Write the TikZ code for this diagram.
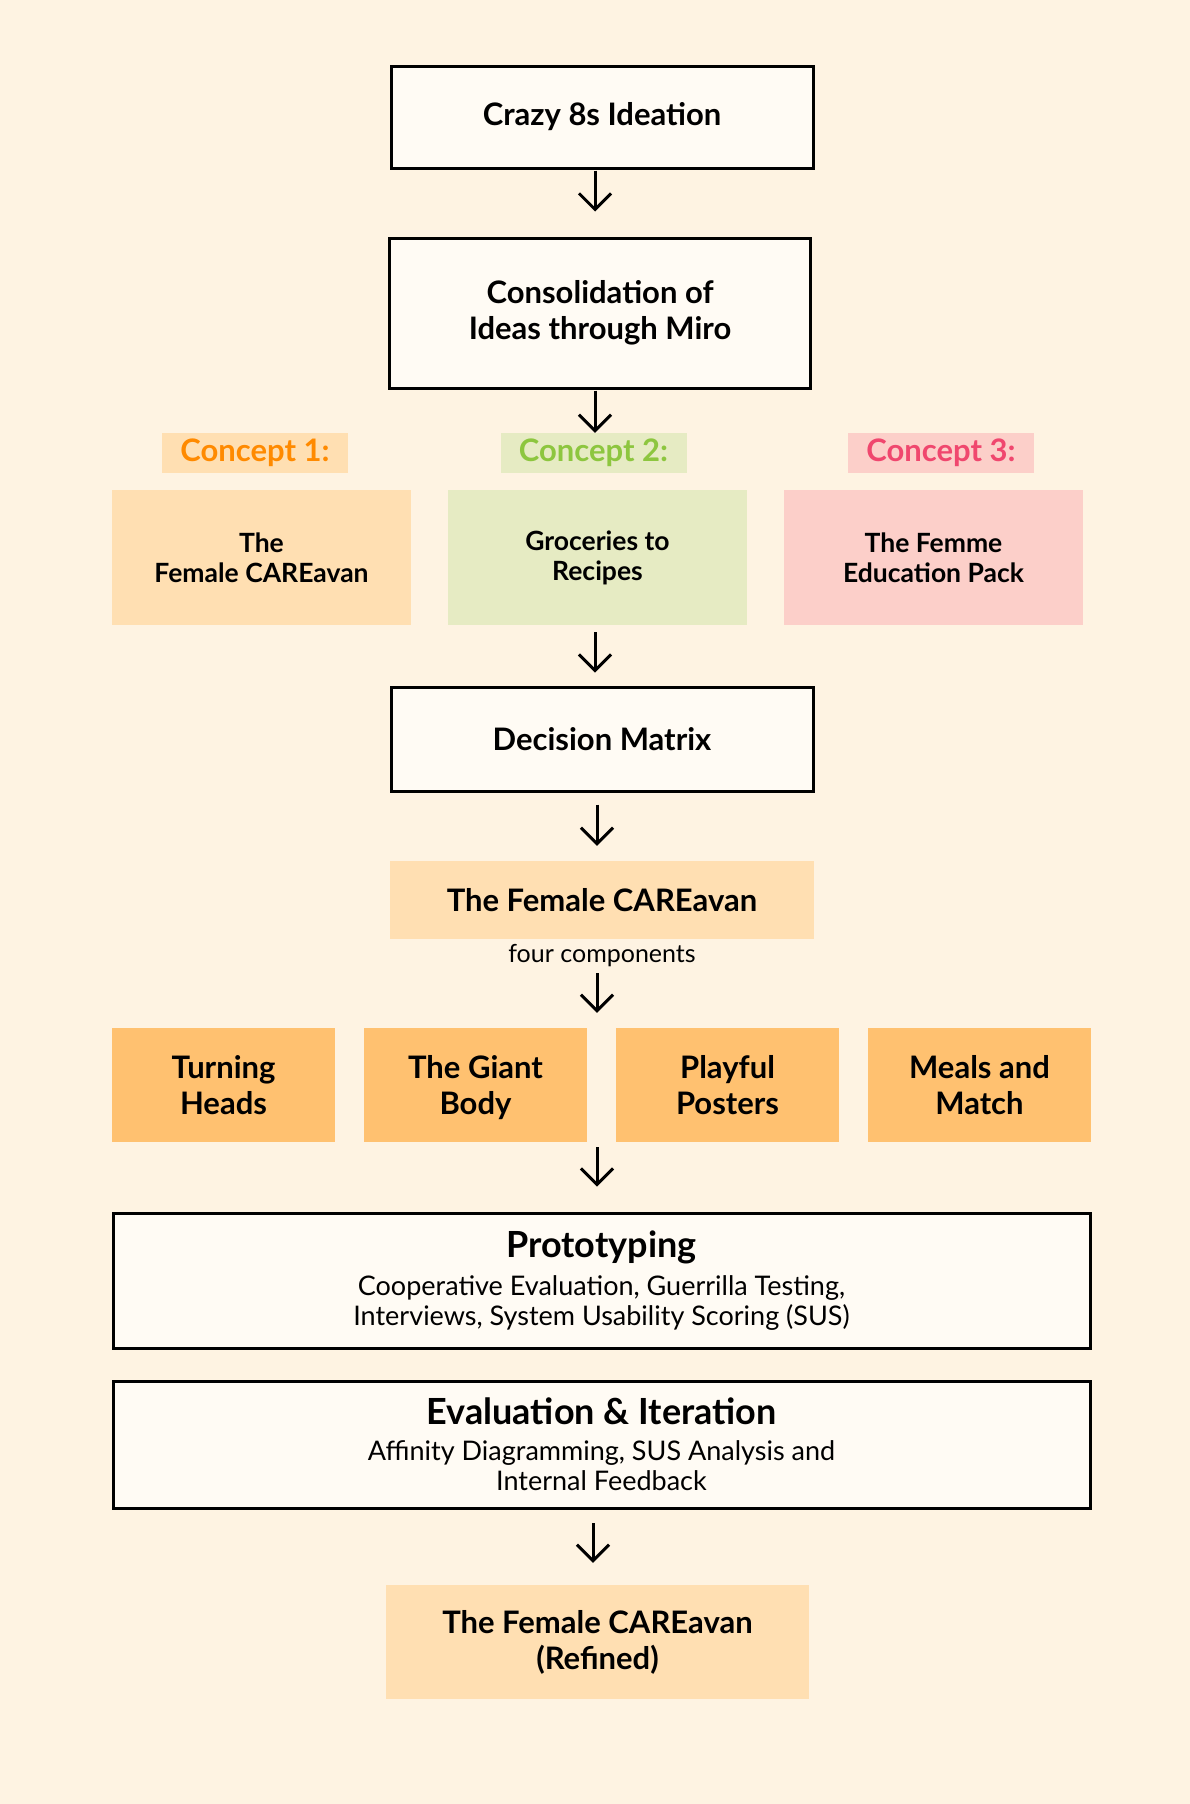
\documentclass[tikz,border=0pt]{standalone}
\usepackage{fontspec}
\setmainfont{Lato}
\usetikzlibrary{arrows.meta}
\definecolor{bgc}{HTML}{FEF3E2}
\definecolor{boxw}{HTML}{FFFBF4}
\definecolor{peach}{HTML}{FFDFB2}
\definecolor{lgreen}{HTML}{E6EBC3}
\definecolor{lpink}{HTML}{FCCFC9}
\definecolor{orng}{HTML}{FFC170}
\definecolor{c1t}{HTML}{FF8A00}
\definecolor{c2t}{HTML}{8DC63F}
\definecolor{c3t}{HTML}{F0476E}
\tikzset{
  outlined/.style={draw=black, line width=3pt, fill=boxw, align=center, inner sep=0pt},
  flat/.style={draw=none, align=center, inner sep=0pt},
  flow/.style={draw=black, line width=3pt, -{Straight Barb[length=16pt,width=32pt,line width=3pt]}},
  bigt/.style={font=\fontsize{31}{36}\selectfont\bfseries},
  midt/.style={font=\fontsize{26.5}{30}\selectfont\bfseries},
  labt/.style={font=\fontsize{31}{36}\selectfont\bfseries},
  subt/.style={font=\fontsize{27}{30}\selectfont},
  compbox/.style={flat, bigt, fill=orng, minimum width=223pt, minimum height=114pt, text depth=0pt},
}
\begin{document}
\begin{tikzpicture}[x=1pt,y=-1pt]
\fill[bgc] (0,0) rectangle (1190,1804);
\useasboundingbox (0,0) rectangle (1190,1804);

\node[outlined, bigt, minimum width=422pt, minimum height=102pt] (crazy) at (602,117) {Crazy 8s Ideation};
\node[outlined, bigt, minimum width=421pt, minimum height=150pt] (consol) at (600,313) {Consolidation of\\Ideas through Miro};

\node[flat, labt, fill=peach, text=c1t, minimum width=186pt, minimum height=40pt] (c1lab) at (255,453) {Concept 1:};
\node[flat, labt, fill=lgreen, text=c2t, minimum width=186pt, minimum height=40pt] (c2lab) at (593.5,453) {Concept 2:};
\node[flat, labt, fill=lpink, text=c3t, minimum width=186pt, minimum height=40pt] (c3lab) at (941,453) {Concept 3:};

\node[flat, midt, fill=peach, minimum width=299pt, minimum height=135pt] (c1) at (261.5,557.5) {The\\Female CAREavan};
\node[flat, midt, fill=lgreen, minimum width=299pt, minimum height=135pt] (c2) at (597.5,557.5) {Groceries to\\Recipes};
\node[flat, midt, fill=lpink, minimum width=299pt, minimum height=135pt] (c3) at (933.5,557.5) {The Femme\\Education Pack};

\node[outlined, bigt, minimum width=422pt, minimum height=104pt] (decision) at (602,739) {Decision Matrix};
\node[flat, bigt, fill=peach, minimum width=424pt, minimum height=78pt] (fem) at (602,900) {The Female CAREavan};
\node[flat, font=\fontsize{25}{28}\selectfont, inner sep=2pt] (four) at (602,956) {four components};

\node[compbox] (b1) at (223.5,1085) {Turning\\Heads};
\node[compbox] (b2) at (475.5,1085) {The Giant\\Body};
\node[compbox] (b3) at (727.5,1085) {Playful\\Posters};
\node[compbox] (b4) at (979.5,1085) {Meals and\\Match};

\node[outlined, subt, minimum width=977pt, minimum height=135pt] (proto) at (601.5,1280.5)
  {{\fontsize{36}{40}\selectfont\bfseries Prototyping}\\[8pt]
   Cooperative Evaluation, Guerrilla Testing,\\
   Interviews, System Usability Scoring (SUS)};
\node[outlined, subt, minimum width=977pt, minimum height=127pt] (eval) at (601.5,1444.5)
  {{\fontsize{36}{40}\selectfont\bfseries Evaluation \& Iteration}\\[6pt]
   Affinity Diagramming, SUS Analysis and\\
   Internal Feedback};
\node[flat, bigt, fill=peach, minimum width=423pt, minimum height=114pt] (refined) at (597.5,1642) {The Female CAREavan\\(Refined)};

\coordinate (a6s) at (597,1144);
\coordinate (a7s) at (593,1510);

\draw[flow, shorten <=1pt, shorten >=25pt] (crazy.south -| 595,0) -- (consol.north -| 595,0);
\draw[flow, shorten <=1pt] (consol.south -| 595,0) -- (c2lab.north -| 595,0);
\draw[flow, shorten <=7pt, shorten >=13pt] (c2.south -| 595,0) -- (decision.north -| 595,0);
\draw[flow, shorten <=12pt, shorten >=15pt] (decision.south -| 597,0) -- (fem.north -| 597,0);
\draw[flow, shorten <=4pt, shorten >=15pt] (four.south -| 597,0) -- (b2.north -| 597,0);
\draw[flow, shorten <=3pt, shorten >=25pt] (a6s) -- (a6s |- proto.north);
\draw[flow, shorten <=13pt, shorten >=22pt] (a7s) -- (a7s |- refined.north);
\end{tikzpicture}
\end{document}
